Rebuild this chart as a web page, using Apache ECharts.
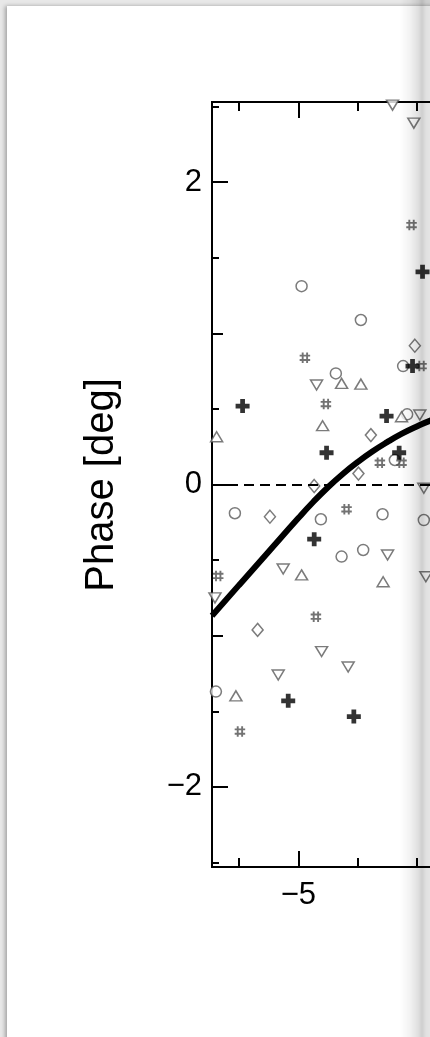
<!DOCTYPE html>
<html><head><meta charset="utf-8">
<script src="https://cdn.jsdelivr.net/npm/echarts@6/dist/echarts.min.js"></script>
<style>
html,body{margin:0;padding:0;width:430px;height:1037px;overflow:hidden;background:#e8e8e8;}
#card{position:absolute;left:7px;top:6px;width:600px;height:1100px;background:#fff;box-shadow:-2px 0 4px rgba(0,0,0,0.30);}
#chart{position:absolute;left:0;top:0;width:620px;height:1037px;}
#edge{position:absolute;left:400px;top:0;width:30px;height:1037px;pointer-events:none;
background:linear-gradient(to right, rgba(0,0,0,0) 0px, rgba(0,0,0,0.05) 10px, rgba(0,0,0,0.12) 18px, rgba(0,0,0,0.19) 22px, rgba(0,0,0,0.12) 26px, rgba(0,0,0,0.10) 30px);}
</style></head>
<body>
<div id="card"></div>
<div id="chart"></div>
<div id="edge"></div>
<script>
// ---- data ----
const yTitle = 'Phase [deg]';
const xMajorTicks = [-5];
const xMinorTicks = [-6, -4, -3, -2];
const yMajorTicks = [-2, 0, 2];
const yMidTicks = [-1, 1];
const yMinorTicks = [-2.5, -1.5, -0.5, 0.5, 1.5, 2.5];

const modelX = [-6.46, -6.0, -5.5, -5.0, -4.75, -4.5, -4.25, -4.0, -3.75, -3.5, -3.25, -3.0, -2.75, -2.5];
const modelY = [-0.868, -0.664, -0.443, -0.222, -0.116, -0.018, 0.070, 0.148, 0.218, 0.280, 0.336, 0.384, 0.426, 0.460];

const circles = [[-4.946,1.312],[-3.944,1.088],[-3.230,0.783],[-4.367,0.735],[-3.162,0.464],[-3.370,0.162],[-6.073,-0.190],[-4.620,-0.230],[-3.578,-0.197],[-2.880,-0.235],[-4.270,-0.477],[-3.905,-0.433],[-6.394,-1.370]];
const diamonds = [[-3.032,0.918],[-3.775,0.327],[-3.985,0.072],[-4.733,-0.010],[-5.481,-0.213],[-5.689,-0.962]];
const trianglesUp = [[-4.270,0.669],[-3.944,0.664],[-4.591,0.389],[-3.257,0.448],[-6.382,0.316],[-4.946,-0.598],[-3.568,-0.643],[-6.056,-1.398]];
const trianglesDown = [[-3.409,2.509],[-3.049,2.390],[-4.693,0.658],[-2.948,0.460],[-2.880,-0.025],[-3.493,-0.466],[-5.257,-0.559],[-2.846,-0.610],[-6.410,-0.750],[-4.608,-1.105],[-4.159,-1.207],[-5.341,-1.260]];
const hashes = [[-3.088,1.716],[-4.890,0.838],[-4.535,0.532],[-2.919,0.783],[-3.623,0.144],[-3.257,0.144],[-4.186,-0.164],[-6.355,-0.605],[-4.704,-0.874],[-5.988,-1.634]];
const crosses = [[-2.902,1.407],[-3.071,0.783],[-5.943,0.519],[-3.510,0.453],[-4.524,0.210],[-3.297,0.210],[-4.733,-0.362],[-5.172,-1.431],[-4.063,-1.535]];

// ---- chart ----
const X_MIN = -6.46, X_MAX = -1.39, Y_MIN = -2.53, Y_MAX = 2.53;
const FONT = '"Liberation Sans", Arial, Helvetica, sans-serif';
const minus = v => String(v).replace('-', '\u2212');
const axisLine = {show: true, onZero: false, lineStyle: {color: '#000', width: 2}};

function xAx(pos, ticks, len, labels) {
  return {type: 'value', position: pos, min: X_MIN, max: X_MAX, gridIndex: 0,
    axisLine: axisLine, splitLine: {show: false},
    axisTick: {show: true, inside: true, length: len, customValues: ticks, lineStyle: {color: '#000', width: 2}},
    axisLabel: labels ? {show: true, customValues: ticks, formatter: minus, color: '#000', fontSize: 31, fontFamily: FONT, margin: 13} : {show: false}};
}
function yAx(pos, ticks, len, labels) {
  return {type: 'value', position: pos, min: Y_MIN, max: Y_MAX, gridIndex: 0,
    axisLine: axisLine, splitLine: {show: false},
    axisTick: {show: true, inside: true, length: len, customValues: ticks, lineStyle: {color: '#000', width: 2}},
    axisLabel: labels ? {show: true, customValues: ticks, formatter: minus, color: '#000', fontSize: 31, fontFamily: FONT, margin: 10} : {show: false}};
}

const openStyle = {color: '#fff', borderColor: '#5a5a5a', borderWidth: 1.5};
const hashPath = 'path://M2,0h1.8v10h-1.8z M6.2,0h1.8v10h-1.8z M0,2h10v1.8h-10z M0,6.2h10v1.8h-10z';
const crossPath = 'path://M3.3,0h3.4v3.3h3.3v3.4h-3.3v3.3h-3.4v-3.3h-3.3v-3.4h3.3z';

const option = {
  animation: false,
  backgroundColor: 'transparent',
  grid: {left: 212, top: 102, width: 300, height: 765, containLabel: false},
  xAxis: [xAx('bottom', xMajorTicks, 16, true), xAx('bottom', xMinorTicks, 9, false),
          xAx('top', xMajorTicks, 16, false), xAx('top', xMinorTicks, 9, false)],
  yAxis: [yAx('left', yMajorTicks, 16, true), yAx('left', yMidTicks, 11, false), yAx('left', yMinorTicks, 7, false),
          yAx('right', yMajorTicks, 16, false), yAx('right', yMidTicks, 11, false), yAx('right', yMinorTicks, 7, false)],
  graphic: [{type: 'text', x: 102, y: 485, rotation: Math.PI / 2,
    style: {text: yTitle, font: '40px ' + FONT, fill: '#000', align: 'center', verticalAlign: 'middle'}}],
  series: [
    {type: 'scatter', name: 'circle', data: circles, symbol: 'circle', symbolSize: 11, itemStyle: openStyle, z: 2},
    {type: 'scatter', name: 'diamond', data: diamonds, symbol: 'diamond', symbolSize: [11, 13], itemStyle: openStyle, z: 2},
    {type: 'scatter', name: 'triUp', data: trianglesUp, symbol: 'triangle', symbolSize: [12, 10], itemStyle: openStyle, z: 2},
    {type: 'scatter', name: 'triDown', data: trianglesDown, symbol: 'triangle', symbolRotate: 180, symbolSize: [12, 10], itemStyle: openStyle, z: 2},
    {type: 'scatter', name: 'hash', data: hashes, symbol: hashPath, symbolSize: 10.5, itemStyle: {color: '#505050'}, z: 2},
    {type: 'scatter', name: 'cross', data: crosses, symbol: crossPath, symbolSize: 14, itemStyle: {color: '#000'}, z: 3},
    {type: 'line', name: 'model', data: modelX.map((x, i) => [x, modelY[i]]), smooth: 0.5, showSymbol: false, symbol: 'none',
      lineStyle: {color: '#000', width: 6}, z: 4,
      markLine: {silent: true, symbol: 'none', label: {show: false},
        lineStyle: {color: '#000', width: 2, type: [10, 6]}, data: [{yAxis: 0}]}}
  ]
};
const chart = echarts.init(document.getElementById('chart'), null, {renderer: 'canvas'});
chart.setOption(option);
</script>
</body></html>
